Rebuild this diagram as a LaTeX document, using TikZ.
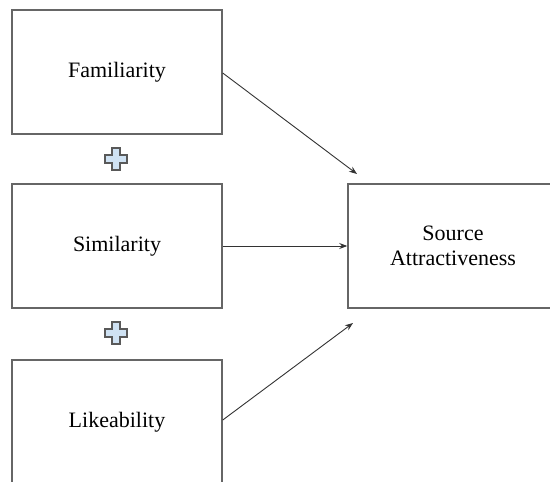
\documentclass[tikz,border=0pt]{standalone}
\usepackage{fontspec}
\setmainfont{Liberation Serif}
\usetikzlibrary{arrows.meta}
\definecolor{plusblue}{RGB}{207,226,243}
\begin{document}
\begin{tikzpicture}[x=1pt,y=-1pt,
  factor/.style={draw=black!60, line width=1.5pt, fill=white, minimum width=210pt,
    minimum height=124pt, inner sep=0pt, font=\fontsize{22}{25}\selectfont,
    align=center, text=black},
  link/.style={draw=black!80, line width=0.9pt, -{Stealth[length=8pt,width=6pt]}},
  plussign/.style={draw=black!65, line width=1.6pt, fill=plusblue}]
  \useasboundingbox (0,0) rectangle (550,482);
  \begin{scope}
  \clip (0,0) rectangle (550,482);
  % three factors on the left, outcome on the right
  \node[factor] (fam) at (117,72) {Familiarity};
  \node[factor] (sim) at (117,246) {Similarity};
  \node[factor] (lik) at (117,422) {Likeability};
  \node[factor] (src) at (453,246) {Source\\Attractiveness};
  % arrow end points near the outcome box
  \coordinate (t1) at (357,174);
  \coordinate (t3) at (353,323);
  \draw[link] (fam.east |- 0,73) -- (t1);
  \draw[link] (sim.east) -- (src.west);
  \draw[link] (lik.east |- 0,420) -- (t3);
  % plus signs between factors
  \foreach \cy in {159,333}{
    \draw[plussign] (112,\cy-11) -- ++(8,0) -- ++(0,7) -- ++(7,0) -- ++(0,8)
      -- ++(-7,0) -- ++(0,7) -- ++(-8,0) -- ++(0,-7) -- ++(-7,0)
      -- ++(0,-8) -- ++(7,0) -- cycle;
  }
  \end{scope}
\end{tikzpicture}
\end{document}
